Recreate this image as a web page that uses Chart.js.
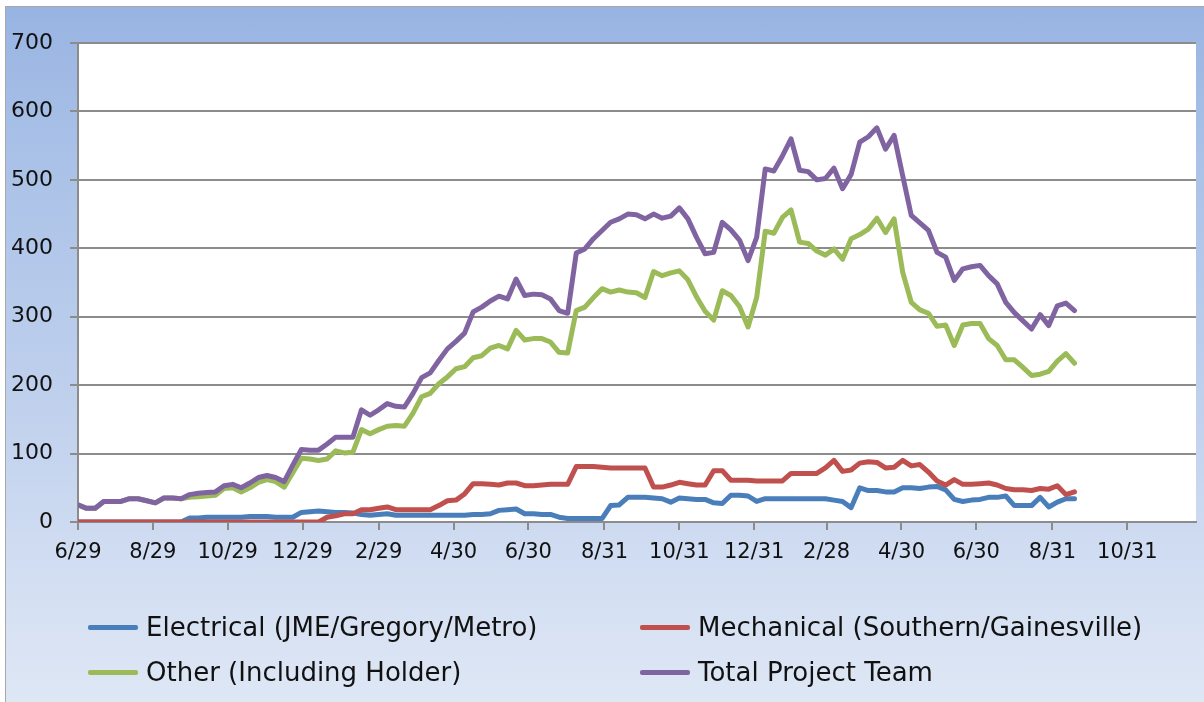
<!DOCTYPE html>
<html>
<head>
<meta charset="utf-8">
<script src="https://cdn.jsdelivr.net/npm/chart.js@4.4.0/dist/chart.umd.min.js"></script>
<style>
  html, body { margin: 0; padding: 0; width: 1204px; height: 702px; overflow: hidden; background: #fff; }
  #frame {
    position: absolute; left: 5px; top: 6px; width: 1210px; height: 710px;
    border: 1.5px solid #a8a8a8;
    background: linear-gradient(to bottom, #98b4e2 0%, #a9c1e7 20%, #bfd0ed 55%, #d2def2 80%, #e0e8f5 100%);
  }
  #wrap { position: absolute; left: 0; top: 0; width: 1204px; height: 702px; }
  #legend { position: absolute; left: 0; top: 0; width: 1204px; height: 702px; pointer-events: none;
    font-family: "DejaVu Sans", sans-serif; font-size: 26px; color: #111; }
  .item { position: absolute; display: flex; align-items: center; height: 32px; white-space: nowrap; }
  .item .swatch { display: inline-block; width: 50px; height: 5px; border-radius: 2px; margin-right: 8px; }
</style>
</head>
<body>
<div id="frame"></div>
<div id="wrap"><canvas id="grafico" width="1204" height="702"></canvas></div>
<div id="legend"></div>
<script>
  const firstWeek = "2011-06-29";

  const series = [
    "Electrical (JME/Gregory/Metro)",
    "Mechanical (Southern/Gainesville)",
    "Other (Including Holder)",
    "Total Project Team"
  ];

  const electrical = [
    0, 0, 0, 0, 0, 0, 0, 0, 0, 0, 0, 0, 0, 6, 6, 7, 7, 7, 7, 7,
    8, 8, 8, 7, 7, 7, 14, 15, 16, 15, 14, 14, 13, 11, 10, 11, 12, 10, 10, 10,
    10, 10, 10, 10, 10, 10, 11, 11, 12, 17, 18, 19, 12, 12, 11, 11, 7, 5, 5, 5,
    5, 5, 24, 25, 36, 36, 36, 35, 34, 29, 35, 34, 33, 33, 28, 27, 39, 39, 38, 30,
    34, 34, 34, 34, 34, 34, 34, 34, 32, 30, 21, 50, 46, 46, 44, 44, 50, 50, 49, 51,
    52, 47, 33, 30, 32, 33, 36, 36, 38, 24, 24, 24, 36, 22, 29, 34, 34
  ];

  const mechanical = [
    0, 0, 0, 0, 0, 0, 0, 0, 0, 0, 0, 0, 0, 0, 0, 0, 0, 0, 0, 0,
    0, 0, 0, 0, 0, 0, 0, 0, 0, 7, 9, 12, 12, 18, 18, 20, 22, 18, 18, 18,
    18, 18, 24, 31, 32, 41, 56, 56, 55, 54, 57, 57, 53, 53, 54, 55, 55, 55, 81, 81,
    81, 80, 79, 79, 79, 79, 79, 51, 51, 54, 58, 56, 54, 54, 75, 75, 61, 61, 61, 60,
    60, 60, 60, 71, 71, 71, 71, 79, 90, 74, 76, 86, 88, 87, 79, 80, 90, 82, 84, 73,
    60, 54, 62, 55, 55, 56, 57, 54, 49, 47, 47, 46, 49, 48, 53, 40, 44
  ];

  const other = [
    25, 20, 20, 30, 30, 30, 34, 34, 31, 28, 35, 35, 34, 36, 37, 38, 39, 49, 50, 44,
    50, 58, 62, 59, 51, 72, 93, 92, 90, 92, 104, 101, 102, 135, 129, 135, 140, 141, 140, 159,
    183, 188, 202, 212, 224, 227, 240, 243, 254, 258, 253, 280, 266, 268, 268, 263, 248, 247, 309, 314,
    328, 341, 336, 339, 336, 335, 328, 366, 360, 364, 367, 354, 329, 308, 295, 338, 331, 315, 285, 328,
    425, 422, 445, 456, 409, 407, 396, 390, 399, 384, 414, 420, 428, 444, 423, 443, 365, 321, 310, 305,
    286, 288, 258, 288, 290, 290, 268, 258, 237, 237, 226, 214, 216, 220, 235, 246, 232
  ];

  const total = [
    25, 20, 20, 30, 30, 30, 34, 34, 31, 28, 35, 35, 34, 40, 42, 43, 44, 53, 55, 50,
    57, 65, 68, 65, 59, 83, 106, 105, 105, 114, 124, 124, 124, 164, 156, 164, 173, 169, 168, 188,
    211, 218, 236, 253, 264, 276, 307, 314, 323, 330, 326, 355, 331, 333, 332, 326, 309, 305, 393, 399,
    414, 426, 438, 443, 450, 449, 443, 450, 444, 447, 459, 443, 416, 392, 394, 438, 427, 412, 382, 416,
    516, 513, 535, 560, 514, 512, 500, 502, 517, 487, 508, 555, 563, 576, 545, 565, 506, 448, 437, 426,
    394, 387, 353, 370, 373, 375, 360, 348, 321, 306, 294, 282, 303, 287, 316, 320, 309
  ];

  const tickDates = [
    "2011-06-29", "2011-08-29", "2011-10-29", "2011-12-29", "2012-02-29",
    "2012-04-30", "2012-06-30", "2012-08-31", "2012-10-31", "2012-12-31",
    "2013-02-28", "2013-04-30", "2013-06-30", "2013-08-31", "2013-10-31"
  ];
  const axisEnd = "2013-12-26";

  const cores = ["#4a7ebb", "#c0504d", "#9bbb59", "#8064a2"];

  const DIA = 86400000;
  const t0 = Date.parse(firstWeek);
  const dias = s => Math.round((Date.parse(s) - t0) / DIA);
  const tickDias = tickDates.map(dias);
  const tickLabels = tickDates.map(s => {
    const d = new Date(s + "T00:00:00Z");
    return (d.getUTCMonth() + 1) + "/" + d.getUTCDate();
  });

  function pontos(valores) {
    return valores.map((v, i) => ({ x: i * 7, y: v }));
  }

  const fundoArea = {
    id: "fundoArea",
    beforeDraw(chart) {
      const a = chart.chartArea;
      const ctx = chart.ctx;
      ctx.save();
      ctx.fillStyle = "#ffffff";
      ctx.fillRect(a.left, a.top, a.right - a.left, a.bottom - a.top);
      ctx.restore();
    }
  };

  const todas = [electrical, mechanical, other, total];
  const gridCor = "#8c8c8c";

  const grafico = new Chart(document.getElementById("grafico").getContext("2d"), {
    type: "line",
    data: {
      datasets: series.map((nome, i) => ({
        label: nome,
        data: pontos(todas[i]),
        borderColor: cores[i],
        backgroundColor: cores[i],
        borderWidth: 5,
        pointRadius: 0,
        tension: 0,
        borderJoinStyle: "round",
        borderCapStyle: "round",
        order: 4 - i
      }))
    },
    options: {
      responsive: false,
      animation: false,
      devicePixelRatio: 1,
      layout: { padding: { left: 0, top: 43, right: 8, bottom: 0 } },
      plugins: {
        legend: { display: false },
        tooltip: { enabled: false }
      },
      scales: {
        x: {
          type: "linear",
          min: 0,
          max: dias(axisEnd),
          afterBuildTicks: s => { s.ticks = tickDias.map(v => ({ value: v })); },
          afterFit: s => { s.height = 180; },
          grid: { drawOnChartArea: false, drawTicks: true, tickLength: 8, color: gridCor, lineWidth: 2 },
          border: { display: true, color: gridCor, width: 2 },
          ticks: {
            autoSkip: false,
            maxRotation: 0,
            padding: 10,
            color: "#111",
            font: { family: "DejaVu Sans", size: 21 },
            callback: (v, i) => tickLabels[i]
          }
        },
        y: {
          min: 0,
          max: 700,
          afterFit: s => { s.width = 78; },
          grid: { color: gridCor, lineWidth: 2, tickLength: 8 },
          border: { display: true, color: gridCor, width: 2 },
          ticks: {
            stepSize: 100,
            padding: 17,
            color: "#111",
            font: { family: "DejaVu Sans", size: 22 }
          }
        }
      }
    },
    plugins: [fundoArea]
  });

  // legenda em duas colunas, como no original
  const posicoes = [[88, 611], [640, 611], [88, 656], [640, 656]];
  const legenda = document.getElementById("legend");
  grafico.data.datasets.forEach((ds, i) => {
    const el = document.createElement("div");
    el.className = "item";
    el.style.left = posicoes[i][0] + "px";
    el.style.top = posicoes[i][1] + "px";
    el.innerHTML = '<span class="swatch" style="background:' + ds.borderColor + '"></span><span>' + ds.label + '</span>';
    legenda.appendChild(el);
  });
</script>
</body>
</html>
